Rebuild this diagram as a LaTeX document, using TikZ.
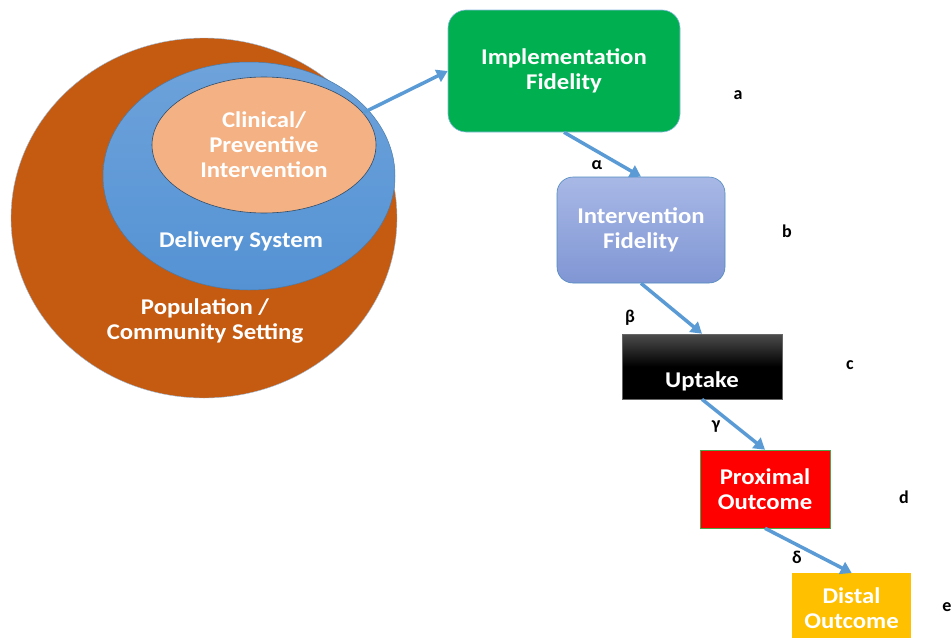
\documentclass[tikz,border=0pt]{standalone}
\usepackage{fontspec}
\setmainfont{Carlito}
\newfontfamily\lblfont{Carlito}[FakeStretch=1.1]
\usetikzlibrary{shapes.geometric,arrows.meta}
\definecolor{popc}{RGB}{197,90,17}
\definecolor{delc}{RGB}{84,146,212}
\definecolor{clinc}{RGB}{244,177,131}
\definecolor{arrc}{RGB}{91,155,213}
\definecolor{implc}{RGB}{0,176,80}
\definecolor{intvtop}{RGB}{168,184,230}
\definecolor{intvbot}{RGB}{128,150,212}
\definecolor{proxc}{RGB}{255,0,0}
\definecolor{distc}{RGB}{255,192,0}
\tikzset{
  lbl/.style={text=white,font=\lblfont\bfseries\fontsize{22.5}{25}\selectfont,align=center},
  letter/.style={font=\bfseries\fontsize{18}{20}\selectfont,text=black},
  greek/.style={font=\bfseries\fontsize{18}{20}\selectfont,text=black},
  conn/.style={draw=arrc,line width=3.5pt,-{Triangle[length=11pt,width=13pt]}},
  boxed/.style={rectangle,inner sep=0pt}
}
\begin{document}
\begin{tikzpicture}[x=1pt,y=-1pt]
\useasboundingbox (0,0) rectangle (952,637);
% nested ellipses
\node[ellipse,fill=popc,draw=arrc!60,line width=0.4pt,minimum width=386,minimum height=360,inner sep=0] (pop) at (204,218) {};
\node[ellipse,top color=delc!85!white,bottom color=delc,draw=arrc!80!black,line width=0.5pt,minimum width=292,minimum height=228,inner sep=0] (del) at (249,176) {};
\node[ellipse,fill=clinc,draw=arrc!50!black,line width=0.6pt,minimum width=224,minimum height=136,inner sep=0] (clin) at (264,145) {};
\node[lbl] (clintxt) at (264,145) {Clinical/\\Preventive\\Intervention};
\node[lbl] (deltxt) at (241,241) {Delivery System};
\node[lbl] (poptxt) at (205,321) {Population /\\Community Setting};
% boxes
\node[boxed,rounded corners=18pt,fill=implc,draw=arrc!70,line width=0.6pt,minimum width=232,minimum height=122] (impl) at (564,71) {};
\node[lbl] at (impl.center) {Implementation\\Fidelity};
\node[boxed,rounded corners=16pt,top color=intvtop,bottom color=intvbot,draw=arrc!90!black,line width=0.6pt,minimum width=168,minimum height=106] (intv) at (641,230) {};
\node[lbl] at (intv.center) {Intervention\\Fidelity};
\node[boxed,top color=black!70,bottom color=black,middle color=black,draw=black!60,line width=0.6pt,minimum width=160,minimum height=65] (upt) at (702,366.5) {};
\node[lbl] at (702,381) {Uptake};
\node[boxed,fill=proxc,draw=green!50!black!70,line width=0.6pt,minimum width=130,minimum height=78] (prox) at (765,489) {};
\node[lbl] at (prox.center) {Proximal\\Outcome};
\node[boxed,fill=distc,minimum width=119,minimum height=80,anchor=north west] (dist) at (792,573) {};
\node[lbl] at (851.5,608) {Distal\\Outcome};
% letters
\node[letter] (la) at (738,95) {a};
\node[letter] (lb) at (787,231) {b};
\node[letter] (lc) at (850,365) {c};
\node[letter] (ld) at (904,497) {d};
\node[letter,anchor=east,inner xsep=0.5pt] (le) at (952,607) {e};
% connectors
\draw[conn] (clin.18) -- (impl.west);
\draw[conn] (impl.south) -- (intv.north);
\draw[conn] (intv.south) -- (upt.north);
\draw[conn] (upt.south) -- (prox.north);
\draw[conn] (prox.south) -- (dist.north);
% greek labels
\node[greek] (ga) at (597,165) {α};
\node[greek] (gb) at (630,318) {β};
\node[greek] (gg) at (716,427) {γ};
\node[greek] (gd) at (797,557) {δ};
\end{tikzpicture}
\end{document}
